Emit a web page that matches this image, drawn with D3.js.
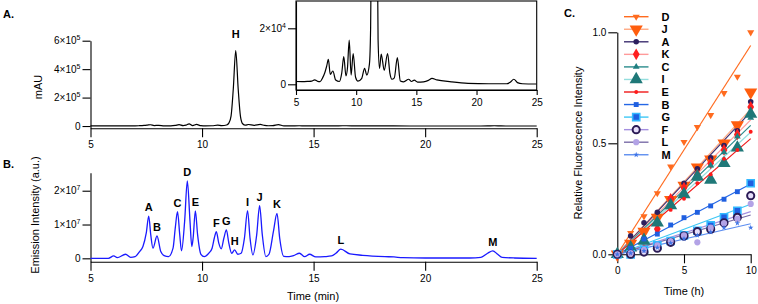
<!DOCTYPE html>
<html><head><meta charset="utf-8">
<script src="https://cdn.jsdelivr.net/npm/d3@7"></script>
<style>
body{margin:0;background:#fff}
svg{display:block}
text{font-family:"Liberation Sans",Arial,sans-serif;fill:#000}
</style></head>
<body><svg id="chart" width="758" height="304"></svg>
<script>
// ---------- Panel A: UV chromatogram (time min, mAU) ----------
const uvTime  = [5.0,5.5,6.0,6.3,6.55,6.8,7.0,7.2,7.4,7.55,7.69,7.85,8.06,8.3,8.6,8.8,8.97,9.15,9.28,9.42,9.58,9.75,9.95,10.15,10.45,10.7,10.88,11.1,11.2,11.3,11.4,11.51,11.62,11.72,11.82,11.94,12.08,12.33,12.61,12.8,12.97,13.17,13.42,13.67,13.95,14.36,14.6,14.83,15.1,15.6,16.0,16.3,16.7,17.9,19.3,21.0,22.5,22.8,23.1,23.4,23.8,25.0];
const uvValue = [1000,950,1050,1150,1600,1050,950,2200,4200,6500,8900,3500,4750,1500,1000,4000,9900,3000,6000,15800,3300,11000,2500,1100,2000,5700,3300,7200,20000,70000,260000,530000,260000,70000,16000,5700,10800,5000,11000,4000,1800,2300,9500,1200,900,1800,1000,1500,800,900,1400,2100,1600,900,350,200,200,700,1800,600,200,100];
const uvYTicks = [0,200000,400000,600000];
const insetYTicks = [0,20000];
const timeTicks = [5,10,15,20,25];
const uvPeakName = "H", uvPeakTime = 11.51, uvPeakHeight = 530000;

// ---------- Panel B: fluorescence chromatogram ----------
const flTime  = [5.0,5.8,6.04,6.2,6.57,6.8,7.0,7.2,7.35,7.5,7.61,7.7,7.8,7.98,8.15,8.3,8.5,8.7,8.8,8.9,9.0,9.08,9.22,9.34,9.46,9.54,9.6,9.7,9.8,9.95,10.1,10.3,10.45,10.55,10.64,10.75,10.86,10.98,11.09,11.2,11.33,11.46,11.6,11.75,11.9,12.04,12.15,12.28,12.45,12.58,12.7,12.86,13.0,13.2,13.36,13.48,13.66,13.9,14.1,14.37,14.6,14.82,15.1,15.5,15.8,16.0,16.22,16.63,17.2,18.2,18.6,19.0,20.0,22.0,22.5,22.8,23.03,23.25,23.45,24.0,25.0];
const flValue = [0,0,0.07,0.02,0.12,0.03,0.05,0.2,0.35,0.75,1.25,0.7,0.3,0.66,0.2,0.08,0.05,0.3,0.9,1.38,0.7,0.22,1.1,2.29,1.1,0.35,0.6,1.4,0.7,0.12,0.05,0.15,0.3,0.6,0.79,0.45,0.28,0.6,0.84,0.45,0.15,0.25,0.12,0.15,0.6,1.41,0.6,0.1,0.7,1.56,0.7,0.05,0.12,0.8,1.33,0.6,0.06,0.05,0.08,0.15,0.05,0.12,0.04,0.05,0.07,0.15,0.27,0.13,0.09,0.05,0.04,0.02,0.01,0.01,0.03,0.15,0.22,0.12,0.03,0.01,0].map(v => v * 1e7);
const flYTicks = [0,1e7,2e7];
const peakNames   = ["A","B","C","D","E","F","G","H","I","J","K","L","M"];
const peakTimes   = [7.61,7.98,8.9,9.34,9.7,10.64,11.09,11.46,12.04,12.58,13.36,16.22,23.03];
const peakHeights = [1.25,0.66,1.38,2.29,1.4,0.79,0.84,0.25,1.41,1.56,1.33,0.27,0.22].map(v => v * 1e7);

// ---------- Panel C: relative fluorescence vs time (h) ----------
const hours = [0,1,2,3,4,5,6,7,8,9,10];
const seriesNames = ["D","J","A","K","C","I","E","B","G","F","L","M"];
const valuesD = [0,0.096,0.171,0.275,0.395,0.506,0.573,0.627,0.726,0.80,1.0];
const valuesJ = [0,0.048,0.102,0.165,0.245,0.31,0.392,0.428,0.50,0.582,0.73];
const valuesA = [0,0.082,0.142,0.189,0.25,0.32,0.385,0.435,0.49,0.557,0.687];
const valuesK = [0,0.03,0.07,0.114,0.25,0.30,0.36,0.41,0.47,0.54,0.664];
const valuesC = [0,0.031,0.08,0.15,0.22,0.28,0.34,0.40,0.46,0.53,0.615];
const valuesI = [0,0.03,0.06,0.142,0.22,0.27,0.35,0.335,0.41,0.48,0.632];
const valuesE = [0,0.02,0.034,0.10,0.20,0.25,0.32,0.36,0.43,0.47,0.552];
const valuesB = [0,0.027,0.069,0.091,0.132,0.165,0.189,0.218,0.248,0.282,0.323];
const valuesG = [0,0.0,0.02,0.04,0.06,0.085,0.106,0.13,0.167,0.196,0.32];
const valuesF = [0,0.0,0.01,0.027,0.054,0.082,0.102,0.113,0.142,0.167,0.264];
const valuesL = [0,0.005,0.02,0.04,0.06,0.085,0.054,0.12,0.14,0.16,0.227];
const valuesM = [0,0.005,0.015,0.03,0.05,0.07,0.085,0.10,0.12,0.14,0.12];
const hourTicks = [0,5,10];
const relTicks = [0,0.5,1.0];

// ---------- styles ----------
const seriesValues = [valuesD,valuesJ,valuesA,valuesK,valuesC,valuesI,valuesE,valuesB,valuesG,valuesF,valuesL,valuesM];
const styles = {
  D:{shape:"tri",down:true, size:22, fill:"#ff6b1f", stroke:"none", line:"#ff6b1f"},
  J:{shape:"tri",down:true, size:75, fill:"#ff5e0e", stroke:"none", line:"#ffa982"},
  A:{shape:"circle", size:24, fill:"#2c1f5e", stroke:"none", line:"#3d2f70"},
  K:{shape:"diamond", size:40, fill:"#ff1f1f", stroke:"none", line:"#ff9a9a"},
  C:{shape:"tri", size:20, fill:"#1f7f80", stroke:"none", line:"#2a8c8c"},
  I:{shape:"tri", size:75, fill:"#1f7878", stroke:"none", line:"#94dede"},
  E:{shape:"circle", size:12, fill:"#ff1a1a", stroke:"none", line:"#f01818"},
  B:{shape:"square", size:24, fill:"#1f5fe0", stroke:"none", line:"#2467e6"},
  G:{shape:"square", size:50, fill:"#1f5fe0", stroke:"#33b8ff", sw:1.6, line:"#3ec8f5"},
  F:{shape:"circle", size:40, fill:"#e6defa", stroke:"#2a1a55", sw:2, line:"#a48fe0"},
  L:{shape:"circle", size:30, fill:"#b3a3e6", stroke:"none", line:"#7a6ca8"},
  M:{shape:"star", size:10, fill:"#3f74e6", stroke:"none", line:"#5d8ef0"}
};
const symType = {tri:d3.symbolTriangle, circle:d3.symbolCircle, diamond:d3.symbolDiamond, square:d3.symbolSquare, star:d3.symbolStar};

const svg = d3.select("#chart");
const FS = 10;

function sciLabel(sel, fmtFn){
  sel.selectAll(".tick text").each(function(d){
    const t = d3.select(this); t.text(null);
    const [m, e] = fmtFn(d);
    t.append("tspan").text(m);
    if (e !== null) t.append("tspan").attr("dy", -4).attr("font-size", 7).text(e);
  });
}
function sci(d){
  if (d === 0) return ["0", null];
  const e = Math.floor(Math.log10(Math.abs(d)) + 1e-9);
  const m = Math.round(d / Math.pow(10, e));
  return [m + "\u00d710", String(e)];
}
function styleAxis(g){
  g.selectAll("path,line").attr("stroke","#000").attr("stroke-width",1.1);
  g.selectAll("text").attr("font-size",FS).attr("fill","#000");
}

// ===== Panel A =====
const xA = d3.scaleLinear().domain([5,25]).range([90.5,536.7]);
const yA = d3.scaleLinear().domain([-16000,600000]).range([128.3,40.7]);
const gAx = svg.append("g").attr("transform","translate(0,128.3)")
  .call(d3.axisBottom(xA).tickValues(timeTicks).tickSize(9).tickSizeOuter(0).tickPadding(4));
styleAxis(gAx);
const gAy = svg.append("g").attr("transform","translate(90.5,0)")
  .call(d3.axisLeft(yA).tickValues(uvYTicks).tickSize(8).tickSizeOuter(0).tickPadding(2));
styleAxis(gAy); sciLabel(gAy, sci);
const uvPts = uvTime.map((t,i)=>[t,uvValue[i]]);
svg.append("path").datum(uvPts).attr("fill","none").attr("stroke","#000").attr("stroke-width",1.2)
  .attr("d", d3.line().x(d=>xA(d[0])).y(d=>yA(d[1])).curve(d3.curveMonotoneX));
svg.append("text").attr("x",xA(uvPeakTime)).attr("y",yA(uvPeakHeight)-13).attr("text-anchor","middle")
  .attr("font-size",11).attr("font-weight","bold").text(uvPeakName);
svg.append("text").attr("transform","translate(42,87) rotate(-90)").attr("text-anchor","middle")
  .attr("font-size",11).text("mAU");
svg.append("text").attr("x",3).attr("y",18).attr("font-size",11).attr("font-weight","bold").text("A.");

// ----- Inset -----
const xI = d3.scaleLinear().domain([5,25]).range([296,536.7]);
const yI = d3.scaleLinear().domain([-2036,29750]).range([90,1]);
svg.append("clipPath").attr("id","insetClip").append("rect")
  .attr("x",296).attr("y",1).attr("width",536.7-296).attr("height",89);
svg.append("rect").attr("x",296).attr("y",1).attr("width",536.7-296).attr("height",89)
  .attr("fill","#fff").attr("stroke","#000").attr("stroke-width",1.1);
svg.append("path").datum(uvPts).attr("fill","none").attr("stroke","#000").attr("stroke-width",1.2)
  .attr("clip-path","url(#insetClip)")
  .attr("d", d3.line().x(d=>xI(d[0])).y(d=>yI(d[1])).curve(d3.curveMonotoneX));
const gIx = svg.append("g").attr("transform","translate(0,90)")
  .call(d3.axisBottom(xI).tickValues(timeTicks).tickSize(5).tickSizeOuter(0).tickPadding(4));
styleAxis(gIx);
const gIy = svg.append("g").attr("transform","translate(296,0)")
  .call(d3.axisLeft(yI).tickValues(insetYTicks).tickSize(8).tickSizeOuter(0).tickPadding(2));
styleAxis(gIy); sciLabel(gIy, sci);

// ===== Panel B =====
const xB = d3.scaleLinear().domain([5,25]).range([90.5,536.7]);
const yB = d3.scaleLinear().domain([-0.1e7,2.53e7]).range([261.7,172.8]);
const gBx = svg.append("g").attr("transform","translate(0,261.7)")
  .call(d3.axisBottom(xB).tickValues(timeTicks).tickSize(9).tickSizeOuter(0).tickPadding(4));
styleAxis(gBx);
const gBy = svg.append("g").attr("transform","translate(90.5,0)")
  .call(d3.axisLeft(yB).tickValues(flYTicks).tickSize(8).tickSizeOuter(0).tickPadding(2));
styleAxis(gBy); sciLabel(gBy, sci);
const flPts = flTime.map((t,i)=>[t,flValue[i]]);
svg.append("path").datum(flPts).attr("fill","none").attr("stroke","#1a1aff").attr("stroke-width",1.3)
  .attr("d", d3.line().x(d=>xB(d[0])).y(d=>yB(d[1])).curve(d3.curveMonotoneX));
svg.append("g").selectAll("text").data(peakNames).join("text")
  .attr("x",(d,i)=>xB(peakTimes[i])).attr("y",(d,i)=>yB(peakHeights[i])-5)
  .attr("text-anchor","middle").attr("font-size",11).attr("font-weight","bold").text(d=>d);
svg.append("text").attr("transform","translate(39,215) rotate(-90)").attr("text-anchor","middle")
  .attr("font-size",11).text("Emission Intensity (a.u.)");
svg.append("text").attr("x",313).attr("y",300).attr("text-anchor","middle").attr("font-size",11).text("Time (min)");
svg.append("text").attr("x",3).attr("y",168).attr("font-size",11).attr("font-weight","bold").text("B.");

// ===== Panel C =====
const xC = d3.scaleLinear().domain([0,10]).range([617.3,750.7]);
const yC = d3.scaleLinear().domain([0,1]).range([254.3,32.3]);
const gCx = svg.append("g").attr("transform","translate(0,254.3)")
  .call(d3.axisBottom(xC).tickValues(hourTicks).tickSize(9).tickSizeOuter(0).tickPadding(4));
styleAxis(gCx);
const gCy = svg.append("g").attr("transform","translate(617.3,0)")
  .call(d3.axisLeft(yC).tickValues(relTicks).tickFormat(d3.format(".1f")).tickSize(9).tickSizeOuter(0).tickPadding(2));
styleAxis(gCy);
svg.append("text").attr("transform","translate(582,143) rotate(-90)").attr("text-anchor","middle")
  .attr("font-size",11).text("Relative Fluorescence Intensity");
svg.append("text").attr("x",684).attr("y",295).attr("text-anchor","middle").attr("font-size",11).text("Time (h)");
svg.append("text").attr("x",564).attr("y",17).attr("font-size",11).attr("font-weight","bold").text("C.");

function symbolPath(st){ return d3.symbol().type(symType[st.shape]).size(st.size)(); }
function drawMarker(g, st, x, y){
  g.append("path").attr("d", symbolPath(st))
    .attr("transform", `translate(${x},${y})` + (st.down ? " rotate(180)" : ""))
    .attr("fill", st.fill).attr("stroke", st.stroke).attr("stroke-width", st.sw || 0);
}
// fit lines (least squares through origin, from data)
const gLines = svg.append("g");
seriesNames.forEach((name, si) => {
  const v = seriesValues[si];
  const slope = d3.sum(hours, (t,i)=>t*v[i]) / d3.sum(hours, t=>t*t);
  gLines.append("line").attr("x1",xC(0)).attr("y1",yC(0)).attr("x2",xC(10)).attr("y2",yC(slope*10))
    .attr("stroke", styles[name].line).attr("stroke-width",1.2);
});
const gPts = svg.append("g");
seriesNames.forEach((name, si) => {
  const v = seriesValues[si];
  hours.forEach((t,i)=> drawMarker(gPts, styles[name], xC(t), yC(v[i])));
});
// legend
const gLeg = svg.append("g");
seriesNames.forEach((name, i) => {
  const y = 16.7 + i * 12.55;
  gLeg.append("line").attr("x1",624).attr("x2",648.5).attr("y1",y).attr("y2",y)
    .attr("stroke", styles[name].line).attr("stroke-width",1.4);
  drawMarker(gLeg, styles[name], 636.2, y);
  gLeg.append("text").attr("x",661.5).attr("y",y+4).attr("font-size",11).attr("font-weight","bold").text(name);
});
</script></body></html>
